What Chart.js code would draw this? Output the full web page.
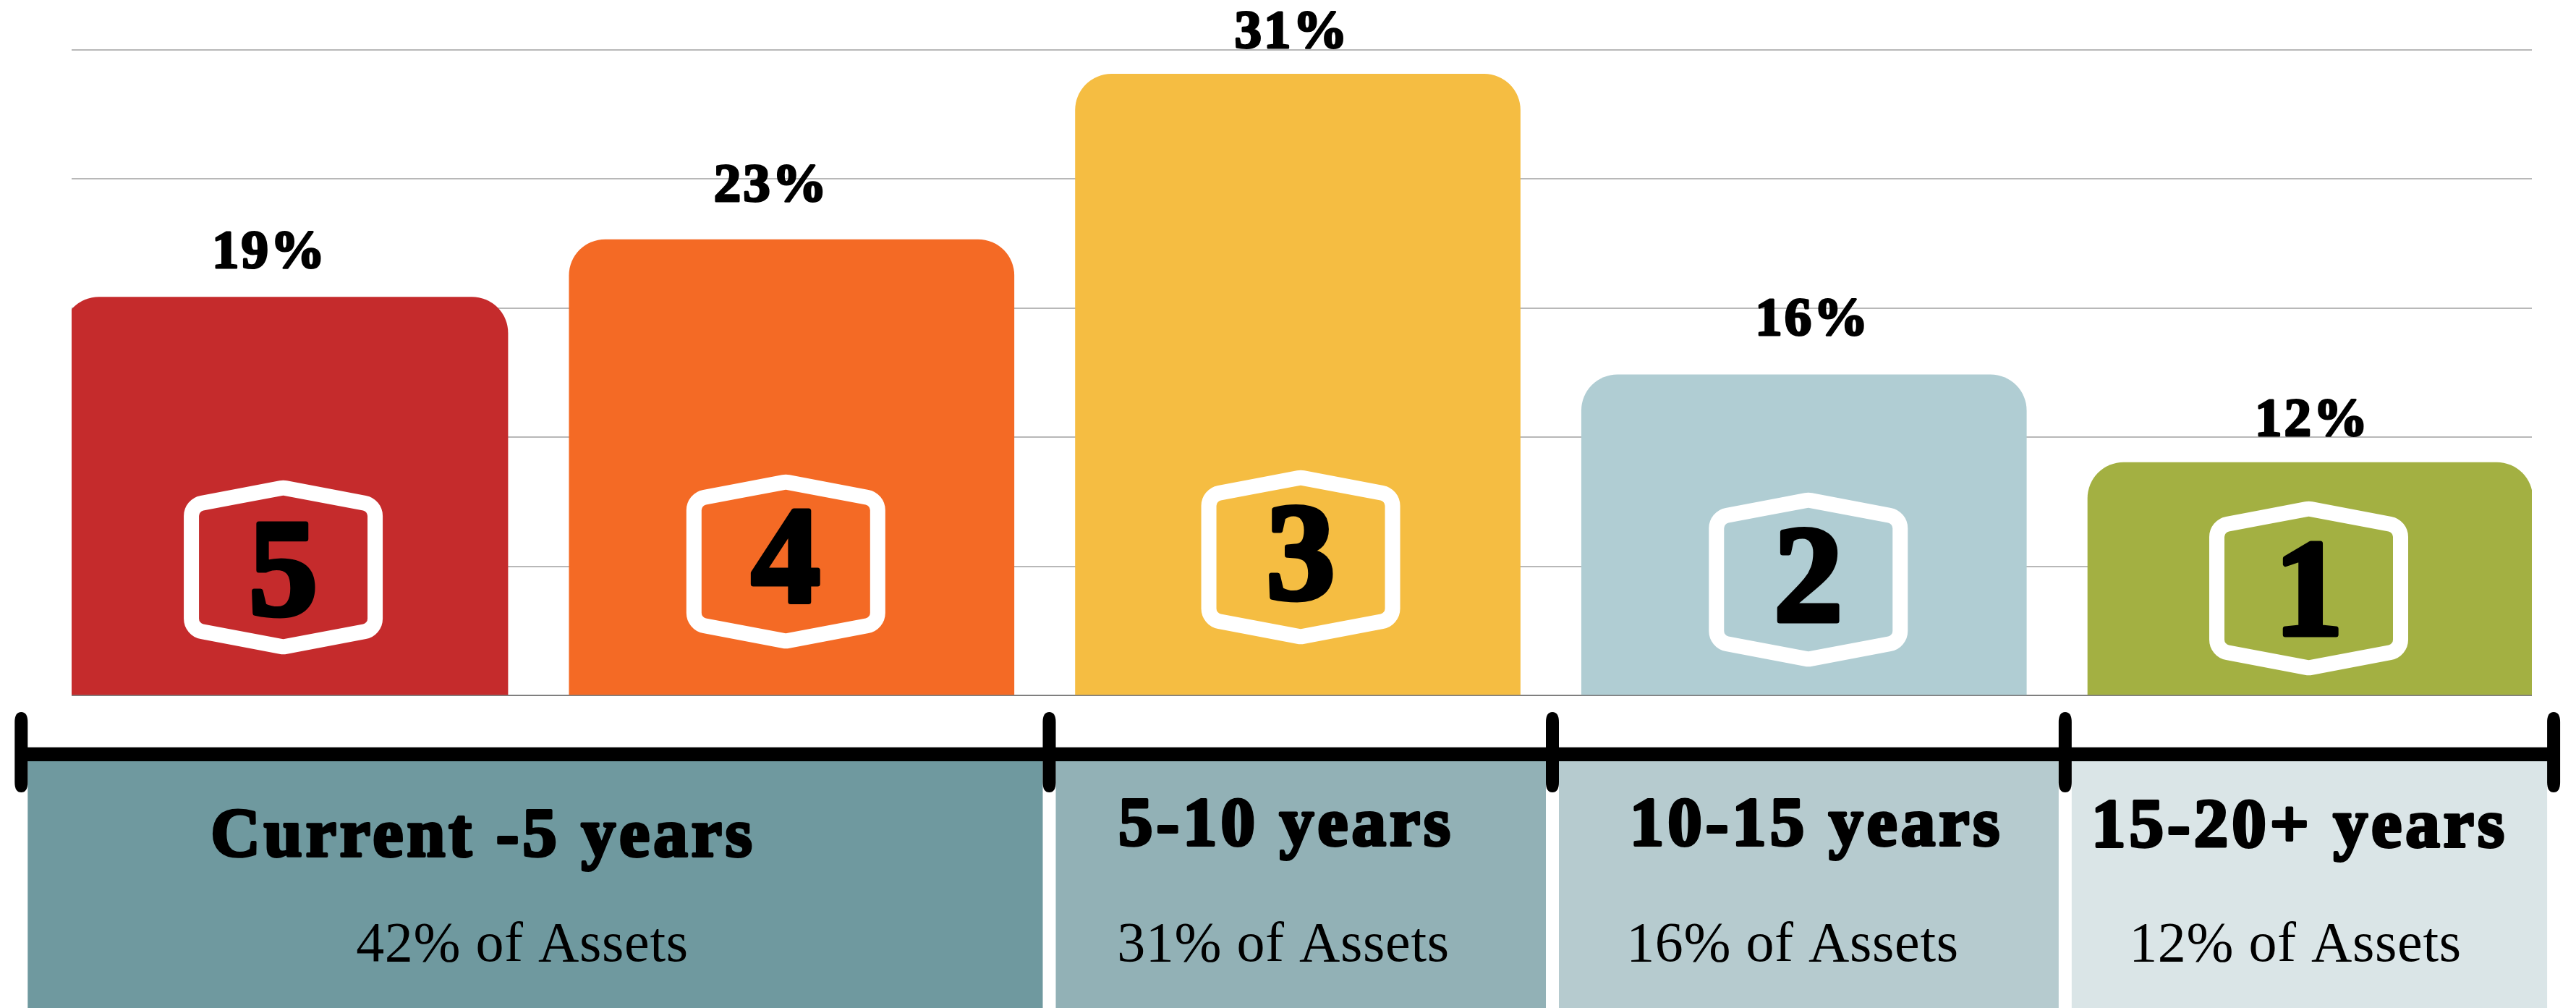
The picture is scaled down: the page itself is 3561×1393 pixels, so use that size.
<!DOCTYPE html>
<html>
<head>
<meta charset="utf-8">
<title>Asset maturity chart</title>
<script src="https://cdn.jsdelivr.net/npm/chart.js@4"></script>
<style>
    html, body { margin: 0; padding: 0; background: #fff; overflow: hidden; }
    canvas { display: block; }
</style>
</head>
<body>
<canvas id="chart" width="3561" height="1393"></canvas>
<script>
// Bars, left to right (heights read against the gridlines)
const ranks = ["5", "4", "3", "2", "1"];
const barValues = [19.75, 22.6, 30.8, 15.9, 11.55];
const barLabels = ["19%", "23%", "31%", "16%", "12%"];
const barColors = ["#C52B2C", "#F46A25", "#F5BD42", "#B0CDD3", "#A3B042"];

// Timeline under the bars, edges are in bar-slot units on the x scale
const timelineEdges = [-0.522, 1.509, 2.503, 3.516, 4.481];
const periods = ["Current -5 years", "5-10 years", "10-15 years", "15-20+ years"];
const shares = ["42% of Assets", "31% of Assets", "16% of Assets", "12% of Assets"];
const periodColors = ["#6F999F", "#92B1B6", "#B6CBCF", "#DAE5E7"];

const yMax = 32;
const yStep = 6.4;

// Hand placement of the annotations, in pixels
const labelX = [-22, -28, -8, 12, 3];      // from bar centre
const labelRise = [40, 53, 36, 55, 37];    // baseline above bar top
const badgeX = [-3, -8, 4, 6, -2];         // from bar centre
const badgeRise = [177, 185, 191, 160, 148]; // centre above axis
const digitDrop = [65, 56, 57, 57, 64];    // baseline below badge centre
const periodX = [668, 1778, 2511, 3179];
const periodY = [1183, 1168, 1168, 1170];
const shareX = [722, 1774, 2478, 3173];
const SERIF = '"Liberation Serif", serif';

function drawText(ctx, text, x, y, size, weight, fatten, spacing) {
    ctx.font = `${weight} ${size}px ${SERIF}`;
    ctx.letterSpacing = `${spacing}px`;
    ctx.textAlign = "center";
    ctx.textBaseline = "alphabetic";
    ctx.fillStyle = "#000";
    ctx.fillText(text, x, y);
    if (fatten > 0) {
        ctx.strokeStyle = "#000";
        ctx.lineWidth = fatten;
        ctx.lineJoin = "round";
        ctx.strokeText(text, x, y);
    }
}

function drawBadge(ctx, cx, cy) {
    const halfW = 127;
    const halfH = 110;
    const shoulder = 86;
    const pts = [
        [cx, cy - halfH], [cx + halfW, cy - shoulder], [cx + halfW, cy + shoulder],
        [cx, cy + halfH], [cx - halfW, cy + shoulder], [cx - halfW, cy - shoulder]
    ];
    ctx.beginPath();
    ctx.moveTo((pts[5][0] + pts[0][0]) / 2, (pts[5][1] + pts[0][1]) / 2);
    pts.forEach((p, i) => {
        const next = pts[(i + 1) % pts.length];
        ctx.arcTo(p[0], p[1], next[0], next[1], 18);
    });
    ctx.closePath();
    ctx.strokeStyle = "#fff";
    ctx.lineWidth = 21;
    ctx.stroke();
}

// Value labels and the numbered badges sitting on the bars
const barAnnotations = {
    id: "barAnnotations",
    afterDatasetsDraw(chart) {
        const { ctx, scales } = chart;
        const base = scales.y.getPixelForValue(0);
        ctx.save();
        barValues.forEach((value, i) => {
            const cx = scales.x.getPixelForValue(i);
            const top = scales.y.getPixelForValue(value);
            drawText(ctx, barLabels[i], cx + labelX[i], top - labelRise[i], 75, "bold", 3, 3);
            const badgeY = base - badgeRise[i];
            drawBadge(ctx, cx + badgeX[i], badgeY);
            drawText(ctx, ranks[i], cx + badgeX[i], badgeY + digitDrop[i], 190, "bold", 7, 0);
        });
        ctx.restore();
    }
};

// Period bands, black rule and end ticks below the axis
const timeline = {
    id: "timeline",
    afterDraw(chart) {
        const { ctx, scales } = chart;
        const edges = timelineEdges.map(v => scales.x.getPixelForValue(v));
        const tickHalf = 9;
        ctx.save();
        periods.forEach((name, i) => {
            const left = edges[i] + tickHalf;
            const right = edges[i + 1] - tickHalf;
            ctx.fillStyle = periodColors[i];
            ctx.fillRect(left, 1052, right - left, 341);
            drawText(ctx, name, periodX[i], periodY[i], 95, "bold", 4, 5);
            drawText(ctx, shares[i], shareX[i], 1328, 78, "normal", 0, 0.7);
        });
        ctx.fillStyle = "#BFBFBF";
        ctx.fillRect(edges[0], 1032, edges[4] - edges[0], 1);
        ctx.fillStyle = "#000";
        ctx.fillRect(edges[0], 1033, edges[4] - edges[0], 19);
        edges.forEach(x => {
            ctx.beginPath();
            ctx.moveTo(x - tickHalf, 998);
            ctx.quadraticCurveTo(x - tickHalf, 984, x, 984);
            ctx.quadraticCurveTo(x + tickHalf, 984, x + tickHalf, 998);
            ctx.lineTo(x + tickHalf, 1081);
            ctx.quadraticCurveTo(x + tickHalf, 1095, x, 1095);
            ctx.quadraticCurveTo(x - tickHalf, 1095, x - tickHalf, 1081);
            ctx.closePath();
            ctx.fill();
        });
        ctx.restore();
    }
};

new Chart(document.getElementById("chart").getContext("2d"), {
    type: "bar",
    data: {
        datasets: [{
            data: barValues.map((value, i) => ({ x: i, y: value })),
            backgroundColor: barColors,
            barThickness: 615,
            borderRadius: { topLeft: 50, topRight: 50, bottomLeft: 0, bottomRight: 0 },
            borderSkipped: "bottom"
        }]
    },
    options: {
        responsive: false,
        animation: false,
        layout: { padding: { left: 99, right: 61, top: 69, bottom: 432 } },
        scales: {
            x: {
                type: "linear",
                offset: false,
                min: -0.4224,
                max: 4.438,
                ticks: { display: false },
                grid: { display: false, drawTicks: false, offset: false },
                border: { display: false }
            },
            y: {
                min: 0,
                max: yMax,
                ticks: { display: false, stepSize: yStep },
                grid: {
                    drawTicks: false,
                    lineWidth: 2,
                    color: ctx => (ctx.tick && ctx.tick.value === 0 ? "#7F7F7F" : "#B8B8B8")
                },
                border: { display: false }
            }
        },
        plugins: {
            legend: { display: false },
            tooltip: { enabled: false }
        }
    },
    plugins: [barAnnotations, timeline]
});
</script>
</body>
</html>
